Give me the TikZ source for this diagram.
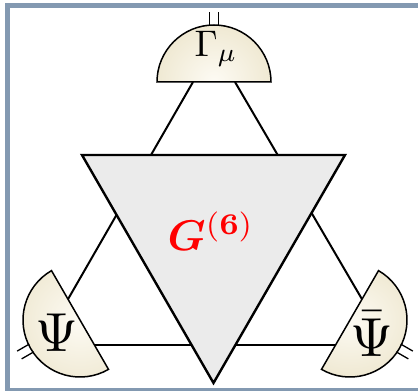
\documentclass[tikz,border=0pt]{standalone}
\usepackage{amsmath}
\usepackage{bm}
\usetikzlibrary{calc}

\definecolor{framecol}{RGB}{131,153,177}
\definecolor{capin}{RGB}{253,251,244}
\definecolor{capout}{RGB}{226,215,178}
\definecolor{vertexgray}{RGB}{235,235,235}
\pgfdeclareradialshading{capshade}{\pgfpointorigin}{color(0bp)=(capin); color(50bp)=(capout)}

% half-disk cap with two external legs: #1 centre, #2 rotation
\newcommand{\halfcap}[2]{%
  \begin{scope}[shift={(#1)}, rotate=#2]
    \begin{scope}
      \clip (57,0) arc (0:180:57) -- cycle;
      \shade[shading=capshade] (0,0) circle (57);
    \end{scope}
    \draw[capline] (57,0) arc (0:180:57) -- cycle;
    \draw[leg] (-4.5,56) -- (-4.5,70);
    \draw[leg] (4.5,56) -- (4.5,70);
  \end{scope}}

\begin{document}
\begin{tikzpicture}[
        x=1pt, y=1pt,
        propline/.style={line width=2pt, black},
        vertexline/.style={line width=2.4pt, black, fill=vertexgray, line join=miter},
        capline/.style={line width=1.5pt, black},
        leg/.style={line width=1.3pt, black},
        caplabel/.style={inner sep=0pt}
    ]
        \useasboundingbox (0,0) rectangle (418,391);
        \clip (0,0) rectangle (418,391);

        % Frame
        \draw[framecol, line width=5pt] (7.5,0.5) rectangle (430,385.2);

        % Cap centres
        \coordinate (capT) at (214,309);
        \coordinate (capL) at (80,71);
        \coordinate (capR) at (350,71);

        % Line ends on the flat sides
        \coordinate (capT-l) at ($(capT)+(180:21)$);
        \coordinate (capT-r) at ($(capT)+(0:21)$);
        \coordinate (capL-t) at ($(capL)+(120:24)$);
        \coordinate (capL-b) at ($(capL)+(300:29)$);
        \coordinate (capR-t) at ($(capR)+(60:24)$);
        \coordinate (capR-b) at ($(capR)+(240:29)$);

        % Propagators
        \draw[propline] (capT-l) -- (capL-t);
        \draw[propline] (capT-r) -- (capR-t);
        \draw[propline] (capL-b) -- (capR-b);

        % Six-point vertex
        \coordinate (gA) at (82,236);
        \coordinate (gB) at (345,236);
        \coordinate (gC) at (213.5,8);
        \draw[vertexline] (gA) -- (gB) -- (gC) -- cycle;
        \node[text=red, scale=4.3] (glabel) at (211,160) {$\bm{G}^{\mathbf{(6)}}$};

        % Caps
        \halfcap{capT}{0}
        \halfcap{capL}{120}
        \halfcap{capR}{-120}

        \node[caplabel, scale=3.7] (gamma) at (216,342) {$\Gamma_\mu$};
        \node[caplabel, scale=5.5] (psi) at (57,58) {$\Psi$};
        \node[caplabel, scale=5.5] (psibar) at (372,57) {$\bar{\Psi}$};
    \end{tikzpicture}
\end{document}
